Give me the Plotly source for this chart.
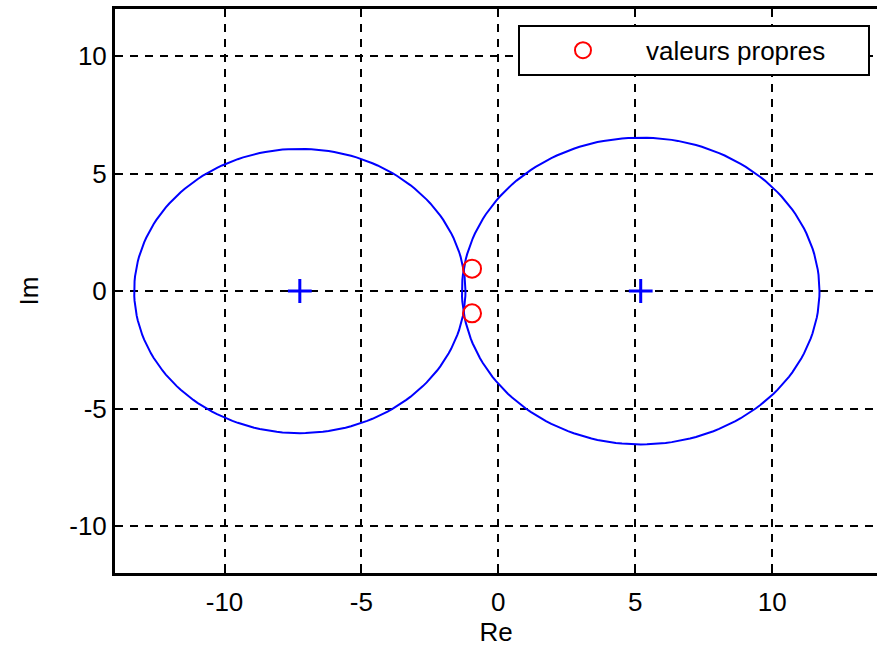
import numpy as np
import plotly.graph_objects as go

# Disques de Gershgorin : centres (partie réelle) et rayons
centres_re = [-7.25, 5.2]
centres_im = [0.0, 0.0]
rayons = [6.05, 6.53]

# Valeurs propres de la matrice
vp_re = [-0.96, -0.96]
vp_im = [0.95, -0.95]

tick_vals = [-10, -5, 0, 5, 10]
tick_text = ["-10", "-5", "0", "5", "10"]

FONT = "Liberation Sans, Arial, sans-serif"
FS = 26
BLUE = "#0000ff"
RED = "#ff0000"

fig = go.Figure()

theta = np.linspace(0.0, 2.0 * np.pi, 181)
for cx, cy, r in zip(centres_re, centres_im, rayons):
    fig.add_trace(go.Scatter(
        x=cx + r * np.cos(theta), y=cy + r * np.sin(theta),
        mode="lines", line=dict(color=BLUE, width=2),
        showlegend=False, hoverinfo="skip",
    ))

# centres des disques
fig.add_trace(go.Scatter(
    x=centres_re, y=centres_im, mode="markers",
    marker=dict(symbol="cross-thin-open", size=17, color=BLUE,
                line=dict(color=BLUE, width=3)),
    showlegend=False, hoverinfo="skip",
))

# valeurs propres
fig.add_trace(go.Scatter(
    x=vp_re, y=vp_im, mode="markers", name="valeurs propres",
    marker=dict(symbol="circle-open", size=18, color=RED,
                line=dict(color=RED, width=2)),
))

axis_common = dict(
    showgrid=True, gridcolor="black", gridwidth=2, griddash="8px,7px",
    zeroline=False, showline=True, linecolor="black", linewidth=3,
    ticks="inside", ticklen=5, tickwidth=2, tickcolor="black",
    tickfont=dict(family=FONT, size=FS, color="black"),
    tickvals=tick_vals, ticktext=tick_text,
)

fig.update_layout(
    width=877, height=651,
    margin=dict(l=115, r=0, t=9, b=78),
    paper_bgcolor="white", plot_bgcolor="white",
    font=dict(family=FONT, size=FS, color="black"),
    xaxis=dict(range=[-14, 13.83], mirror=True, ticklabelstandoff=4,
               title=dict(text="Re", font=dict(family=FONT, size=FS), standoff=6),
               **axis_common),
    yaxis=dict(range=[-12, 12],
               title=dict(text="Im", font=dict(family=FONT, size=FS), standoff=24),
               **axis_common),
    legend=dict(
        orientation="h",
        x=0.9908, y=0.972, xanchor="right", yanchor="top",
        bgcolor="white", bordercolor="black", borderwidth=2,
        font=dict(family=FONT, size=FS, color="black"),
        itemwidth=116, entrywidth=217,
    ),
)

fig.write_html("out.html")
